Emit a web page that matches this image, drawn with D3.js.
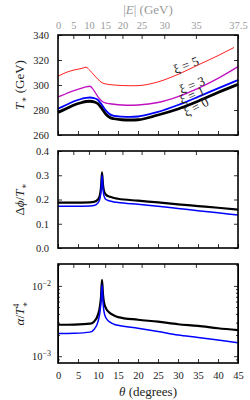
<!DOCTYPE html>
<html>
<head>
<meta charset="utf-8">
<script src="https://cdn.jsdelivr.net/npm/d3@7"></script>
<style>
  body { margin: 0; background: #fff; }
  text { font-family: "Liberation Serif", "DejaVu Serif", serif; }
</style>
</head>
<body>
<div id="wrapper"></div>
<script>
// top panel: T* vs theta for several xi
const thetaT = [0, 2, 4, 6, 7, 8, 9, 10, 11, 12, 13, 14, 16, 18, 20, 25, 30, 35, 40, 45];
const tXi0 = [278, 281, 284, 286, 286.8, 287, 286.5, 285, 281, 276.5, 274, 273, 272.2, 272, 272.2, 276, 280.8, 287, 294, 300.5];
const tXi1 = [281, 284, 287, 289, 289.7, 290, 289.5, 288, 284, 279.5, 276.5, 275.3, 274.7, 274.5, 274.8, 278.5, 284, 290.5, 297.3, 304];
const tXi3 = [290.5, 293, 295.5, 297.5, 298.5, 299, 295.5, 290.5, 287, 285.5, 285, 284.6, 284, 283.8, 284, 286, 290.7, 297.3, 305.3, 314.7];
const thetaT5 = [0, 2, 4, 6, 7, 8, 9, 10, 11, 12, 13, 14, 16, 18, 20, 25, 30, 35, 40, 44];
const tXi5 = [307, 310, 312, 313.3, 314.3, 311.5, 308, 304.5, 301.8, 300.8, 300.3, 300, 299.6, 299.4, 299.5, 302.5, 308.5, 316, 323.5, 330];

// middle + bottom panels (xi = 0 black, xi = 1 blue)
const thetaD = [0, 4, 8, 9, 10, 10.5, 10.75, 11, 11.25, 11.5, 12, 13, 14, 15, 20, 25, 30, 35, 40, 45];
const dXi0 = [0.187, 0.187, 0.188, 0.19, 0.2, 0.22, 0.25, 0.312, 0.26, 0.235, 0.22, 0.211, 0.206, 0.203, 0.195, 0.188, 0.18, 0.173, 0.166, 0.158];
const dXi1 = [0.172, 0.172, 0.173, 0.175, 0.186, 0.205, 0.235, 0.30, 0.245, 0.215, 0.2, 0.194, 0.19, 0.188, 0.18, 0.172, 0.163, 0.154, 0.145, 0.136];
const aXi0 = [2.8e-3, 2.82e-3, 2.9e-3, 3.1e-3, 3.9e-3, 5.2e-3, 7e-3, 1.22e-2, 7.5e-3, 5.8e-3, 4.8e-3, 4.1e-3, 3.8e-3, 3.6e-3, 3.3e-3, 3.1e-3, 2.85e-3, 2.7e-3, 2.5e-3, 2.35e-3];
const aXi1 = [2.1e-3, 2.12e-3, 2.2e-3, 2.4e-3, 3.1e-3, 4.3e-3, 6e-3, 1.04e-2, 6e-3, 4.3e-3, 3.5e-3, 3.05e-3, 2.85e-3, 2.75e-3, 2.5e-3, 2.25e-3, 2.0e-3, 1.85e-3, 1.7e-3, 1.55e-3];

const thetaTicks = [0, 5, 10, 15, 20, 25, 30, 35, 40, 45];
const eTicks = [0, 5, 10, 15, 20, 25, 30, 35, 37.5];
const eMax = 37.5;
const tTicks = [260, 280, 300, 320, 340];
const dTicks = [0.0, 0.1, 0.2, 0.3, 0.4];
const xiLabels = [
    {text: "ξ = 5", theta: 32, T: 316, rot: -21},
    {text: "ξ = 3", theta: 33.5, T: 300, rot: -21},
    {text: "ξ = 1", theta: 33.5, T: 292, rot: -24},
    {text: "ξ = 0", theta: 34.5, T: 282.5, rot: -28}
];

const width = 250, height = 400;
const left = 58, right = 238;
const panels = [
    {top: 35, bottom: 135},
    {top: 151, bottom: 248},
    {top: 264, bottom: 363}
];

const svg = d3.select("#wrapper").append("svg")
    .attr("width", width).attr("height", height);

const x_scale = d3.scaleLinear().domain([0, 45]).range([left, right]);
// |E| = 37.5 sin(2 theta)  ->  theta in degrees
const eToTheta = e => Math.asin(e / eMax) * 90 / Math.PI;

const y1 = d3.scaleLinear().domain([260, 340]).range([panels[0].bottom, panels[0].top]);
const y2 = d3.scaleLinear().domain([0, 0.4]).range([panels[1].bottom, panels[1].top]);
const y3 = d3.scaleLog().domain([8e-4, 2.05e-2]).range([panels[2].bottom, panels[2].top]);

function frameAxes(p, yScale, yVals, yFmt, showE, showTheta, minor) {
    const h = p.bottom - p.top;
    // bottom theta ticks
    const xb = svg.append("g").attr("transform", `translate(0,${p.bottom})`)
        .call(d3.axisBottom(x_scale).tickValues(thetaTicks).tickSizeInner(-4).tickSizeOuter(0).tickPadding(9)
            .tickFormat(showTheta ? d3.format("d") : () => ""));
    // top |E| ticks
    const xt = svg.append("g").attr("transform", `translate(0,${p.top})`)
        .call(d3.axisTop(x_scale).tickValues(eTicks.map(eToTheta)).tickSizeInner(-4).tickSizeOuter(0).tickPadding(6)
            .tickFormat(showE ? (d, i) => eTicks[i] : () => ""));
    xt.selectAll("text").attr("fill", "#9a9a9a");
    const yl = svg.append("g").attr("transform", `translate(${left},0)`)
        .call(d3.axisLeft(yScale).tickValues(yVals).tickSizeInner(-4).tickSizeOuter(0).tickPadding(9).tickFormat(yFmt));
    const yr = svg.append("g").attr("transform", `translate(${right},0)`)
        .call(d3.axisRight(yScale).tickValues(yVals).tickSizeInner(-4).tickSizeOuter(0).tickFormat(() => ""));
    if (minor) {
        svg.append("g").attr("transform", `translate(${left},0)`)
            .call(d3.axisLeft(yScale).tickValues(minor).tickSizeInner(-2).tickSizeOuter(0).tickFormat(() => ""));
        svg.append("g").attr("transform", `translate(${right},0)`)
            .call(d3.axisRight(yScale).tickValues(minor).tickSizeInner(-2).tickSizeOuter(0).tickFormat(() => ""));
    }
    [xb, xt, yl, yr].forEach(g => {
        g.select(".domain").remove();
        g.selectAll("text").style("font-size", "10.5px").style("font-family", "Liberation Serif, serif");
    });
    yl.selectAll("text").attr("fill", "#222");
    xb.selectAll("text").attr("fill", "#222");
    svg.selectAll(".tick line").attr("stroke", "#000").attr("stroke-width", 0.8);
    svg.append("rect")
        .attr("x", left).attr("y", p.top)
        .attr("width", right - left).attr("height", h)
        .attr("fill", "none").attr("stroke", "#000").attr("stroke-width", 1.6);
}

function drawLine(xs, ys, yScale, color, w) {
    const pts = xs.map((t, i) => [t, ys[i]]);
    svg.append("path")
        .datum(pts)
        .attr("fill", "none")
        .attr("stroke", color)
        .attr("stroke-width", w)
        .attr("stroke-linejoin", "round")
        .attr("d", d3.line().x(d => x_scale(d[0])).y(d => yScale(d[1])).curve(d3.curveMonotoneX));
}

// panel 1
drawLine(thetaT5, tXi5, y1, "#ff2020", 1);
drawLine(thetaT, tXi3, y1, "#c010c0", 1.3);
drawLine(thetaT, tXi0, y1, "#000", 2.8);
drawLine(thetaT, tXi1, y1, "#0000ff", 1.8);
frameAxes(panels[0], y1, tTicks, d3.format("d"), true, false, null);

xiLabels.forEach(l => {
    svg.append("text")
        .attr("transform", `translate(${x_scale(l.theta)},${y1(l.T)}) rotate(${l.rot})`)
        .attr("text-anchor", "middle")
        .attr("dominant-baseline", "central")
        .style("font-size", "13px")
        .attr("fill", "#222")
        .text(l.text);
});

// panel 2
drawLine(thetaD, dXi0, y2, "#000", 2.2);
drawLine(thetaD, dXi1, y2, "#0000ff", 1.5);
frameAxes(panels[1], y2, dTicks, d3.format(".1f"), false, false, null);

// panel 3
drawLine(thetaD, aXi0, y3, "#000", 2.2);
drawLine(thetaD, aXi1, y3, "#0000ff", 1.5);
const minorLog = [9e-4, 2e-3, 3e-3, 4e-3, 5e-3, 6e-3, 7e-3, 8e-3, 9e-3, 2e-2];
frameAxes(panels[2], y3, [1e-3, 1e-2], () => "", false, true, minorLog);
[[1e-2, "−2"], [1e-3, "−3"]].forEach(([v, e]) => {
    const t = svg.append("text")
        .attr("x", left - 7).attr("y", y3(v) + 4)
        .attr("text-anchor", "end")
        .attr("fill", "#222")
        .style("font-size", "10.5px");
    t.append("tspan").text("10");
    t.append("tspan").attr("dy", -4).style("font-size", "8px").text(e);
});

// axis titles
function yTitle(p, build) {
    const t = svg.append("text")
        .attr("transform", `translate(24,${(p.top + p.bottom) / 2}) rotate(-90)`)
        .attr("text-anchor", "middle")
        .attr("fill", "#222")
        .style("font-size", "13px");
    build(t);
}
yTitle(panels[0], t => {
    t.append("tspan").style("font-style", "italic").text("T");
    t.append("tspan").attr("dy", 3).style("font-size", "9px").text("∗");
    t.append("tspan").attr("dy", -3).text(" (GeV)");
});
yTitle(panels[1], t => {
    t.append("tspan").text("Δ");
    t.append("tspan").style("font-style", "italic").text("ϕ");
    t.append("tspan").text("/");
    t.append("tspan").style("font-style", "italic").text("T");
    t.append("tspan").attr("dy", 3).style("font-size", "9px").text("∗");
});
yTitle(panels[2], t => {
    t.append("tspan").style("font-style", "italic").text("α");
    t.append("tspan").text("/");
    t.append("tspan").style("font-style", "italic").text("T");
    t.append("tspan").attr("dy", -5).style("font-size", "8px").text("4");
    t.append("tspan").attr("dx", -4).attr("dy", 9).style("font-size", "9px").text("∗");
});

const xt = svg.append("text")
    .attr("x", (left + right) / 2).attr("y", 396)
    .attr("text-anchor", "middle")
    .attr("fill", "#222")
    .style("font-size", "13px");
xt.append("tspan").style("font-style", "italic").text("θ");
xt.append("tspan").text("  (degrees)");

const et = svg.append("text")
    .attr("x", (left + right) / 2).attr("y", 14)
    .attr("text-anchor", "middle")
    .attr("fill", "#9a9a9a")
    .style("font-size", "13px");
et.append("tspan").text("|");
et.append("tspan").style("font-style", "italic").text("E");
et.append("tspan").text("|  (GeV)");
</script>
</body>
</html>
